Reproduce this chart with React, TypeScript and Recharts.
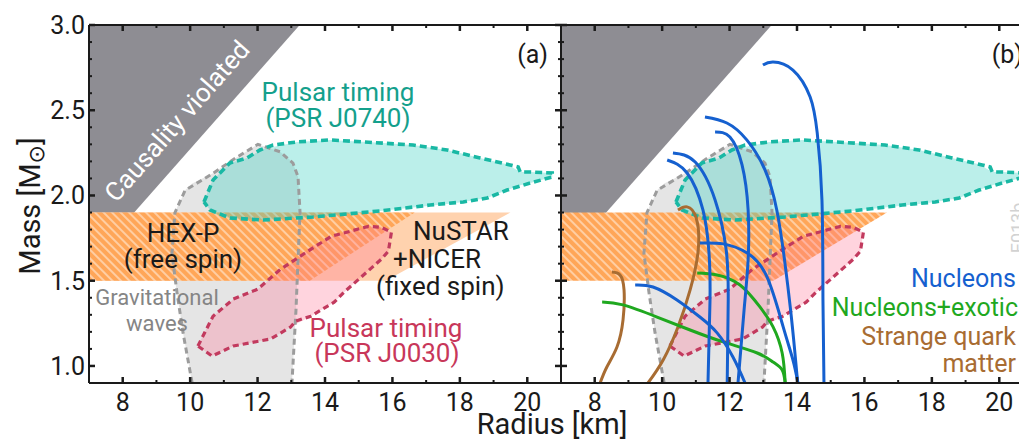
import React from 'react';
import { ComposedChart, Area, Line, XAxis, YAxis } from 'recharts';

const FONT = "Roboto, 'Noto Sans', 'DejaVu Sans', sans-serif";

// ---------- axes ----------
const xDomain: [number, number] = [7, 21];
const yDomain: [number, number] = [0.9, 3.0];
const xTicks = [8, 9, 10, 11, 12, 13, 14, 15, 16, 17, 18, 19, 20];
const xMajor = [8, 10, 12, 14, 16, 18, 20];
const yTicks = [1.0, 1.1, 1.2, 1.3, 1.4, 1.5, 1.6, 1.7, 1.8, 1.9, 2.0, 2.1, 2.2, 2.3, 2.4, 2.5, 2.6, 2.7, 2.8, 2.9, 3.0];
const yMajor = [1.0, 1.5, 2.0, 2.5, 3.0];

type R = [number, number, number]; // x, low mass, high mass
type P = [number, number]; // radius, mass

// ---------- regions (filled as ranges) ----------
const causalityRange: R[] = [[7, 1.6, 3.0], [13.25, 3.0, 3.0]];
const hexpRangeA: R[] = [[7, 1.5, 1.9], [13.55, 1.5, 1.9], [16.66, 1.9, 1.9]];
const hexpRangeB: R[] = [[7, 1.5, 1.9], [13.3, 1.5, 1.9], [16.67, 1.9, 1.9]];
const nustarRange: R[] = [[7, 1.5, 1.9], [15.8, 1.5, 1.9], [19.5, 1.9, 1.9]];
const gwRange: R[] = [
  [9.46, 1.62, 1.7], [9.55, 1.5, 1.9], [9.61, 1.43, 1.93], [9.79, 1.194, 2.0], [9.85, 1.13, 2.03],
  [10.06, 0.9, 2.07], [10.68, 0.9, 2.13], [11.27, 0.9, 2.21], [12.01, 0.9, 2.3], [12.67, 0.9, 2.256],
  [13.02, 0.9, 2.2], [13.05, 1.0, 2.19], [13.14, 1.33, 2.14], [13.2, 1.625, 2.11], [13.26, 1.9, 1.9],
];
const j0740Range: R[] = [
  [10.41, 1.962, 1.962], [10.59, 1.915, 2.06], [10.68, 1.895, 2.091], [11.18, 1.868, 2.191],
  [11.69, 1.86, 2.22], [12.16, 1.856, 2.272], [13.17, 1.868, 2.314], [14.15, 1.88, 2.326],
  [15.63, 1.909, 2.31], [16.61, 1.93, 2.296], [17.62, 1.95, 2.267], [18.1, 1.962, 2.245],
  [18.81, 1.985, 2.21], [19.4, 2.032, 2.183], [19.79, 2.06, 2.138], [20.09, 2.073, 2.138],
  [20.74, 2.109, 2.132],
];
const j0030Range: R[] = [
  [10.23, 1.117, 1.117], [10.65, 1.058, 1.285], [11.28, 1.117, 1.392], [12.0, 1.143, 1.45],
  [12.38, 1.158, 1.51], [12.98, 1.228, 1.6], [13.58, 1.292, 1.7], [14.27, 1.374, 1.765],
  [14.57, 1.433, 1.785], [15.29, 1.56, 1.819], [15.67, 1.626, 1.813], [15.88, 1.673, 1.79],
  [15.97, 1.784, 1.784],
];

// ---------- dashed outlines ----------
const gwOutline: P[] = [
  [10.06, 0.9], [9.79, 1.194], [9.61, 1.43], [9.46, 1.66], [9.55, 1.9], [9.85, 2.03], [10.68, 2.13],
  [11.27, 2.21], [12.01, 2.3], [12.67, 2.256], [13.05, 2.19], [13.2, 2.11], [13.26, 1.9],
  [13.2, 1.625], [13.14, 1.33], [13.02, 0.9],
];
const j0740Outline: P[] = [
  [10.41, 1.962], [10.68, 2.091], [11.18, 2.191], [11.69, 2.22], [12.07, 2.267], [12.46, 2.296],
  [13.17, 2.314], [14.15, 2.326], [15.13, 2.314], [16.61, 2.296], [17.62, 2.267], [18.6, 2.22],
  [19.49, 2.179], [19.73, 2.167], [19.79, 2.138], [20.09, 2.138], [20.74, 2.132], [20.74, 2.109],
  [20.09, 2.073], [19.4, 2.032], [18.81, 1.985], [18.1, 1.962], [17.12, 1.944], [15.63, 1.909],
  [13.65, 1.874], [12.16, 1.856], [11.18, 1.868], [10.59, 1.915], [10.41, 1.962],
];
const j0030Outline: P[] = [
  [10.23, 1.117], [10.68, 1.292], [11.28, 1.392], [12.0, 1.45], [12.68, 1.567], [13.49, 1.673],
  [14.18, 1.76], [15.29, 1.819], [15.67, 1.813], [15.97, 1.784], [15.88, 1.673], [15.67, 1.626],
  [14.57, 1.433], [14.27, 1.374], [13.58, 1.292], [13.13, 1.263], [12.98, 1.228], [12.38, 1.158],
  [11.28, 1.117], [10.65, 1.058], [10.23, 1.117],
];

// ---------- EOS mass-radius curves (panel b) ----------
const nucleon1: P[] = [[12.99, 2.765], [13.29, 2.783], [13.88, 2.736], [14.39, 2.578], [14.6, 2.367], [14.74, 1.974], [14.77, 1.387], [14.8, 0.9]];
const nucleon2: P[] = [[11.27, 2.46], [11.92, 2.425], [12.51, 2.326], [13.05, 2.15], [13.4, 1.915], [13.63, 1.622], [13.81, 1.328], [13.93, 1.094], [14.02, 0.9]];
const nucleon3: P[] = [[11.57, 2.372], [12.01, 2.343], [12.37, 2.179], [12.55, 1.915], [12.55, 1.622], [12.43, 1.328], [12.25, 0.9]];
const nucleon4: P[] = [[10.15, 2.208], [10.74, 2.132], [11.21, 1.915], [11.39, 1.663], [11.42, 1.387], [11.36, 0.9]];
const nucleon5: P[] = [[10.32, 2.249], [10.98, 2.196], [11.57, 1.974], [11.9, 1.68], [11.96, 1.387], [11.93, 0.9]];
const nucleon6: P[] = [[11.12, 1.721], [11.81, 1.716], [12.52, 1.663], [13.11, 1.522], [13.59, 1.229], [13.88, 1.035], [14.03, 0.9]];
const nucleon7: P[] = [[9.2, 1.475], [9.73, 1.463], [10.44, 1.387], [11.12, 1.287], [11.63, 1.194], [12.1, 1.053], [12.46, 0.9]];
const exotic1: P[] = [[8.22, 1.375], [8.84, 1.358], [9.85, 1.287], [10.83, 1.211], [11.81, 1.141], [12.82, 1.076], [13.29, 1.023], [13.56, 0.977], [13.65, 0.9]];
const exotic2: P[] = [[11.04, 1.545], [11.63, 1.534], [12.31, 1.475], [12.9, 1.346], [13.29, 1.229], [13.56, 1.076], [13.65, 0.9]];
const quark1: P[] = [[8.51, 1.551], [8.75, 1.534], [8.87, 1.446], [8.84, 1.27], [8.66, 1.111], [8.36, 0.994], [8.16, 0.9]];
const quark2: P[] = [[10.47, 1.915], [10.74, 1.933], [11.01, 1.868], [11.07, 1.68], [10.83, 1.446], [10.47, 1.229], [10.03, 1.035], [9.58, 0.9]];

const nucleonCurves = [nucleon1, nucleon2, nucleon3, nucleon4, nucleon5, nucleon6, nucleon7];
const exoticCurves = [exotic1, exotic2];
const quarkCurves = [quark1, quark2];

const toRange = (rows: R[]) => rows.map(([x, lo, hi]) => ({ x, r: [lo, hi] }));
const toPts = (rows: P[]) => rows.map(([x, y]) => ({ x, y }));

// ---------- colours ----------
const C = {
  axis: '#1a1a1a',
  causality: '#8e8d93',
  gwFill: '#e5e5e5',
  gwLine: '#9c9c9c',
  tealFill: '#3cd2c3',
  tealLine: '#19b8a4',
  tealText: '#14a08c',
  pinkFill: '#ff6f93',
  pinkLine: '#c23a5e',
  pinkText: '#c8375a',
  peach: '#ffd2ae',
  orange: '#ffa658',
  stripe: '#ffd9b6',
  blue: '#1560cf',
  green: '#1fa81f',
  brown: '#a86c32',
};

const isMajorX = (v: number) => xMajor.some((m) => Math.abs(m - v) < 1e-6);
const isMajorY = (v: number) => yMajor.some((m) => Math.abs(m - v) < 1e-6);

function BottomTick(props: any) {
  const { x, y, payload } = props;
  const v = payload.value;
  const major = isMajorX(v);
  const base = y - 10;
  return (
    <g>
      <line x1={x} x2={x} y1={base} y2={base - (major ? 6 : 3)} stroke={C.axis} strokeWidth={major ? 2.5 : 2} />
      {major && (
        <text x={x} y={y} dy="0.71em" textAnchor="middle" fontFamily={FONT} fontSize={25} fill="#1a1a1a">
          {v}
        </text>
      )}
    </g>
  );
}
function TopTick(props: any) {
  const { x, y, payload } = props;
  const major = isMajorX(payload.value);
  return <line x1={x} x2={x} y1={y} y2={y + (major ? 6 : 3)} stroke={C.axis} strokeWidth={major ? 2.5 : 2} />;
}
function LeftTick(props: any) {
  const { x, y, payload } = props;
  const v = payload.value;
  const major = isMajorY(v);
  const base = x + 4;
  return (
    <g>
      <line x1={base} x2={base + (major ? 6 : 3)} y1={y} y2={y} stroke={C.axis} strokeWidth={major ? 2.5 : 2} />
      {major && (
        <text x={x} y={y} dy="0.355em" textAnchor="end" fontFamily={FONT} fontSize={25} fill="#1a1a1a">
          {v.toFixed(1)}
        </text>
      )}
    </g>
  );
}
function InnerLeftTick(props: any) {
  const { x, y, payload } = props;
  const major = isMajorY(payload.value);
  return <line x1={x} x2={x + (major ? 6 : 3)} y1={y} y2={y} stroke={C.axis} strokeWidth={major ? 2.5 : 2} />;
}
function RightTick(props: any) {
  const { x, y, payload } = props;
  const major = isMajorY(payload.value);
  return <line x1={x} x2={x - (major ? 6 : 3)} y1={y} y2={y} stroke={C.axis} strokeWidth={major ? 2.5 : 2} />;
}

const axisLine = { stroke: C.axis, strokeWidth: 2 };

function Panel({ which }: { which: 'a' | 'b' }) {
  const isA = which === 'a';
  const hatchId = `hatch-${which}`;
  const common = { isAnimationActive: false, type: 'linear' as const, stroke: 'none', dot: false, activeDot: false, dataKey: 'r' };
  const lineCommon = { isAnimationActive: false, dot: false, activeDot: false, dataKey: 'y' };
  return (
    <ComposedChart width={isA ? 566 : 477} height={443} margin={{ top: 25, right: 5, bottom: 0, left: 0 }}>
      <defs>
        <pattern id={hatchId} patternUnits="userSpaceOnUse" width={6} height={6} patternTransform="rotate(-45)">
          <rect x={0} y={0} width={6} height={6} fill={C.orange} />
          <line x1={1} y1={0} x2={1} y2={6} stroke={C.stripe} strokeWidth={1.6} />
        </pattern>
      </defs>
      <XAxis type="number" dataKey="x" domain={xDomain} allowDataOverflow ticks={xTicks} interval={0}
        tick={BottomTick} tickLine={false} tickSize={0} tickMargin={10} height={60} axisLine={axisLine} />
      <XAxis xAxisId="top" orientation="top" mirror type="number" dataKey="x" domain={xDomain} allowDataOverflow
        ticks={xTicks} interval={0} tick={TopTick} tickLine={false} tickSize={0} tickMargin={0} axisLine={axisLine} />
      {isA ? (
        <YAxis type="number" domain={yDomain} allowDataOverflow ticks={yTicks} interval={0} width={89}
          tick={LeftTick} tickLine={false} tickSize={0} tickMargin={4} axisLine={axisLine} />
      ) : (
        <YAxis type="number" mirror domain={yDomain} allowDataOverflow ticks={yTicks} interval={0}
          tick={InnerLeftTick} tickLine={false} tickSize={0} tickMargin={0} axisLine={axisLine} />
      )}
      <YAxis yAxisId="right" orientation="right" mirror type="number" domain={yDomain} allowDataOverflow
        ticks={yTicks} interval={0} tick={RightTick} tickLine={false} tickSize={0} tickMargin={0} axisLine={axisLine} />

      <Area {...common} data={toRange(causalityRange)} fill={C.causality} fillOpacity={1} />
      <Area {...common} data={toRange(gwRange)} fill={C.gwFill} fillOpacity={1} />
      {isA && <Area {...common} data={toRange(nustarRange)} fill={C.peach} fillOpacity={1} />}
      <Area {...common} data={toRange(isA ? hexpRangeA : hexpRangeB)} fill={`url(#${hatchId})`} fillOpacity={1} />
      <Area {...common} data={toRange(j0740Range)} fill={C.tealFill} fillOpacity={0.35} />
      <Area {...common} data={toRange(j0030Range)} fill={C.pinkFill} fillOpacity={0.3} />

      <Line {...lineCommon} type="linear" data={toPts(gwOutline)} stroke={C.gwLine} strokeWidth={3} strokeDasharray="6 4" />
      <Line {...lineCommon} type="linear" data={toPts(j0740Outline)} stroke={C.tealLine} strokeWidth={3.6} strokeDasharray="7 4" />
      <Line {...lineCommon} type="linear" data={toPts(j0030Outline)} stroke={C.pinkLine} strokeWidth={3.2} strokeDasharray="6 4" />

      {!isA && quarkCurves.map((c, i) => (
        <Line key={`q${i}`} {...lineCommon} type="natural" data={toPts(c)} stroke={C.brown} strokeWidth={3} />
      ))}
      {!isA && exoticCurves.map((c, i) => (
        <Line key={`e${i}`} {...lineCommon} type="natural" data={toPts(c)} stroke={C.green} strokeWidth={3} />
      ))}
      {!isA && nucleonCurves.map((c, i) => (
        <Line key={`n${i}`} {...lineCommon} type="natural" data={toPts(c)} stroke={C.blue} strokeWidth={3} />
      ))}
    </ComposedChart>
  );
}

export default function App() {
  const t = { fontFamily: FONT } as const;
  return (
    <div style={{ position: 'absolute', left: 0, top: 0, width: 1019, height: 443, overflow: 'hidden', background: '#fff' }}>
      <div style={{ position: 'absolute', left: 0, top: 0 }}>
        <Panel which="a" />
      </div>
      <div style={{ position: 'absolute', left: 561, top: 0 }}>
        <Panel which="b" />
      </div>
      <svg width={1019} height={443} style={{ position: 'absolute', left: 0, top: 0, pointerEvents: 'none' }}>
        {/* axis titles */}
        <text {...t} x={40} y={206} transform="rotate(-90 40 206)" textAnchor="middle" fontSize={29} fill="#1a1a1a">
          Mass [M<tspan fontSize={22} dy={4}>⊙</tspan><tspan dy={-4}>]</tspan>
        </text>
        <text {...t} x={552} y={434} textAnchor="middle" fontSize={29} fill="#1a1a1a">Radius [km]</text>

        {/* panel a */}
        <text {...t} x={548} y={63} textAnchor="end" fontSize={25} fill="#1a1a1a">(a)</text>
        <text {...t} x={177} y={121} dy="0.35em" transform="rotate(-48.6 177 121)" textAnchor="middle" fontSize={26} fill="#ffffff">Causality violated</text>
        <text {...t} x={338} y={101} textAnchor="middle" fontSize={26} fill={C.tealText}>Pulsar timing</text>
        <text {...t} x={338} y={127} textAnchor="middle" fontSize={26} fill={C.tealText}>(PSR J0740)</text>
        <text {...t} x={183} y={242} textAnchor="middle" fontSize={26} fill="#1a1a1a">HEX-P</text>
        <text {...t} x={183} y={268} textAnchor="middle" fontSize={26} fill="#1a1a1a">(free spin)</text>
        <text {...t} x={413} y={240} textAnchor="start" fontSize={26} fill="#1a1a1a">NuSTAR</text>
        <text {...t} x={393} y={268} textAnchor="start" fontSize={26} fill="#1a1a1a">+NICER</text>
        <text {...t} x={376} y={295} textAnchor="start" fontSize={26} fill="#1a1a1a">(fixed spin)</text>
        <text {...t} x={157} y={305} textAnchor="middle" fontSize={22} fill="#858585">Gravitational</text>
        <text {...t} x={157} y={331} textAnchor="middle" fontSize={22} fill="#858585">waves</text>
        <text {...t} x={386} y={337} textAnchor="middle" fontSize={26} fill={C.pinkText}>Pulsar timing</text>
        <text {...t} x={387} y={362} textAnchor="middle" fontSize={26} fill={C.pinkText}>(PSR J0030)</text>

        {/* panel b */}
        <text {...t} x={1023} y={63} textAnchor="end" fontSize={25} fill="#1a1a1a">(b)</text>
        <text {...t} x={1024} y={228} transform="rotate(-90 1024 228)" textAnchor="middle" fontSize={18} fill="#d2d2d2">E013b</text>
        <text {...t} x={1016} y={287} textAnchor="end" fontSize={25} fill={C.blue}>Nucleons</text>
        <text {...t} x={1018} y={316} textAnchor="end" fontSize={25} fill={C.green}>Nucleons+exotic</text>
        <text {...t} x={1016} y={345} textAnchor="end" fontSize={25} fill={C.brown}>Strange quark</text>
        <text {...t} x={1016} y={372} textAnchor="end" fontSize={25} fill={C.brown}>matter</text>
      </svg>
    </div>
  );
}
